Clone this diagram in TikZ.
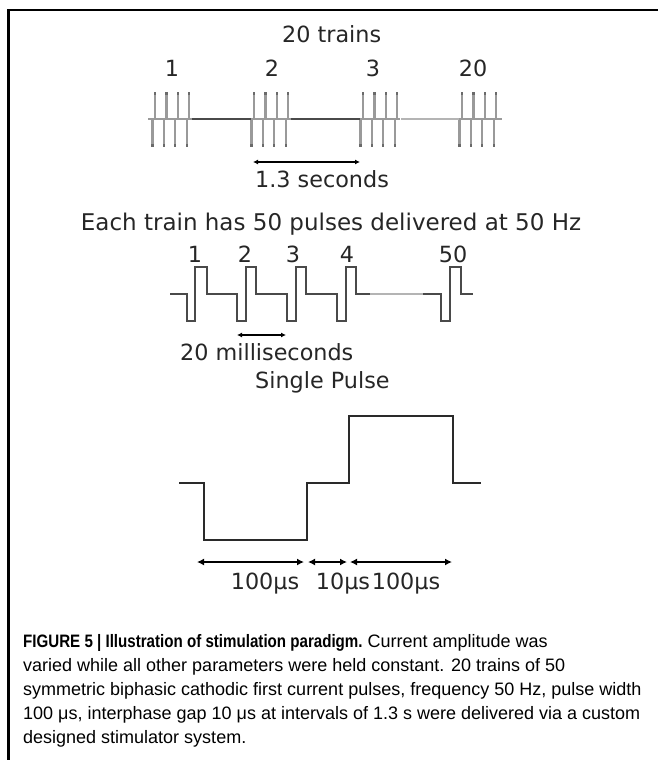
\documentclass[tikz,border=0pt]{standalone}
\usepackage{fontspec}
\usepackage{graphicx}
\usetikzlibrary{arrows.meta}
\setmainfont{Liberation Sans}
\newfontfamily\verd{DejaVu Sans}
\definecolor{spikegray}{HTML}{9A9A9A}
\definecolor{spiketip}{HTML}{6A6A6A}
\definecolor{darkline}{HTML}{4A4A4A}
\definecolor{lightline}{HTML}{B4B4B4}
\definecolor{pulseline}{HTML}{2A2A2A}
\begin{document}
\begin{tikzpicture}[x=1pt,y=-1pt,
  lbl/.style={font=\verd\fontsize{22.3}{25}\selectfont, inner sep=0pt, anchor=base, text=black!85},
  lblw/.style={lbl, anchor=base west},
  biglbl/.style={lbl, font=\verd\fontsize{23}{26}\selectfont},
  caption/.style={font=\fontsize{18}{22}\selectfont, inner sep=0pt, anchor=base west},
  spikeline/.style={draw=spikegray, line width=2.2pt},
  spikecap/.style={draw=spiketip, line width=2.2pt},
  trainbase/.style={draw=spikegray, line width=1.5pt},
  gapline/.style={draw=darkline, line width=1.6pt},
  faintline/.style={draw=lightline, line width=1.3pt},
  wave/.style={draw=darkline, line width=1.3pt},
  bigwave/.style={draw=pulseline, line width=2pt},
  thinarrow/.style={draw=black, line width=1.2pt, {Latex[length=5pt,width=5pt]}-{Latex[length=5pt,width=5pt]}},
  boldarrow/.style={draw=black, line width=1.8pt, {Latex[length=7pt,width=7pt]}-{Latex[length=7pt,width=7pt]}},
  frameline/.style={draw=black, line width=2.5pt, line join=miter}
]
\useasboundingbox (0,0) rectangle (657,760);
\fill[white] (0,0) rectangle (657,760);
% frame
\draw[frameline] (660,10) -- (8.3,10) -- (8.3,765);

% ---------- 20 trains ----------
\node[lblw] (ttl) at (282,43) {20 trains};
\node[lbl] (t1) at (172,76) {1};
\node[lbl] (t2) at (272,76) {2};
\node[lbl] (t3) at (373,76) {3};
\node[lbl] (t20) at (473,76) {20};

\foreach \t/\e in {155/148,254/248,363/357,462/456} {
  \draw[trainbase] (\e,119) -- (\t+3*11.4+3,119);
  \foreach \k in {0,...,3} {
    \pgfmathsetmacro\xx{\t+11.4*\k}
    \draw[spikeline] (\xx,92) -- (\xx,119);
    \draw[spikeline] (\xx-2.5,119) -- (\xx-2.5,147);
    \draw[spikecap] (\xx,92) -- (\xx,95);
    \draw[spikecap] (\xx-2.5,144) -- (\xx-2.5,147);
  }
}
\draw[gapline] (192,119) -- (251,119);
\draw[gapline] (291,119) -- (360,119);
\draw[faintline] (401,119) -- (459,119);
\draw[trainbase] (499,119) -- (502,119);

\coordinate (s13a) at (253,162);
\coordinate (s13b) at (360,162);
\draw[thinarrow] (s13a) -- (s13b);
\node[lblw] (sec) at (255,187) {1.3 seconds};

% ---------- 50 pulses ----------
\node[biglbl] (each) at (331,230) {Each train has 50 pulses delivered at 50 Hz};
\node[lbl] (p1) at (195,262) {1};
\node[lbl] (p2) at (245,262) {2};
\node[lbl] (p3) at (293,262) {3};
\node[lbl] (p4) at (347,262) {4};
\node[lbl] (p50) at (453,262) {50};

\draw[wave] (170,294) -- (187,294) -- (187,321) -- (195,321) -- (195,267) -- (207,267) -- (207,294)
  -- (237,294) -- (237,321) -- (246,321) -- (246,267) -- (256,267) -- (256,294)
  -- (287,294) -- (287,321) -- (296,321) -- (296,267) -- (306,267) -- (306,294)
  -- (337,294) -- (337,321) -- (346,321) -- (346,267) -- (356,267) -- (356,294) -- (370,294);
\draw[faintline] (370,294) -- (423,294);
\draw[wave] (423,294) -- (441,294) -- (441,321) -- (450,321) -- (450,267) -- (461,267) -- (461,294) -- (473,294);

\coordinate (ms20a) at (237,335);
\coordinate (ms20b) at (286,335);
\draw[thinarrow] (ms20a) -- (ms20b);
\node[lblw] (ms) at (180,360) {20 milliseconds};

% ---------- single pulse ----------
\node[lblw] (sp) at (255,388) {Single Pulse};
\draw[bigwave] (179,483) -- (204,483) -- (204,540) -- (307,540) -- (307,483) -- (349,483)
  -- (349,416) -- (453,416) -- (453,483) -- (481,483);

\coordinate (d0) at (197,562);
\coordinate (d1) at (304,562);
\coordinate (d2) at (308,562);
\coordinate (d3) at (347,562);
\coordinate (d4) at (350,562);
\coordinate (d5) at (452,562);
\draw[boldarrow] (d0) -- (d1);
\draw[boldarrow] (d2) -- (d3);
\draw[boldarrow] (d4) -- (d5);
\node[lbl] (w1) at (265,589) {100μs};
\node[lbl] (w2) at (343,589) {10μs};
\node[lbl] (w3) at (406,589) {100μs};

% ---------- caption ----------
\node[caption] (c1) at (23,647) {\scalebox{0.84}[1]{\bfseries FIGURE 5 | Illustration of stimulation paradigm.} Current amplitude was};
\node[caption] (c2) at (23,671) {varied while all other parameters were held constant. 20 trains of 50};
\node[caption] (c3) at (23,695) {symmetric biphasic cathodic first current pulses, frequency 50 Hz, pulse width};
\node[caption] (c4) at (23,719) {100 μs, interphase gap 10 μs at intervals of 1.3 s were delivered via a custom};
\node[caption] (c5) at (23,743) {designed stimulator system.};
\end{tikzpicture}
\end{document}
